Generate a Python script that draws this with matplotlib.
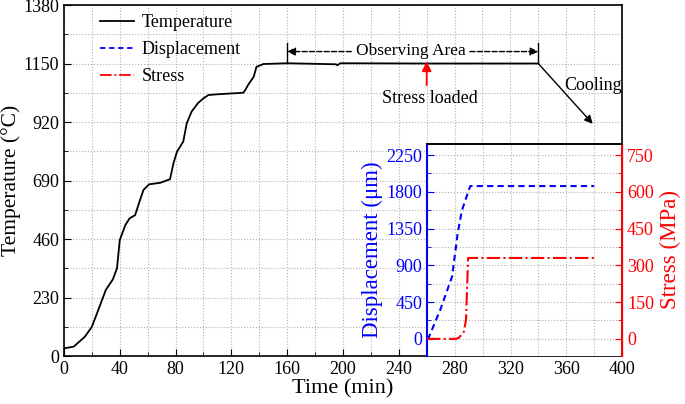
import matplotlib.pyplot as plt
from matplotlib.lines import Line2D
from matplotlib.ticker import MultipleLocator

plt.rcParams['font.family'] = ['Liberation Serif', 'DejaVu Serif']

# temperature curve (main axes)
time_t = [0, 7, 15, 20, 25, 30, 35, 38, 40, 44, 47, 51, 54.5, 57, 61, 69, 76, 78.5, 81,
          85.5, 88, 91.5, 96, 100, 103.5, 110, 128.5, 130, 132, 136, 138, 143, 160,
          195, 196, 198, 260, 340]
temp = [30, 37, 76, 115, 187, 260, 301, 345, 456, 515, 541, 554, 613, 653, 675, 681, 695,
        758, 803, 843, 915, 961, 994, 1013, 1026, 1029, 1035, 1046, 1066, 1098, 1137, 1148,
        1151, 1147, 1143, 1151, 1150, 1150]

# displacement (inset, left axis)
time_d = [260, 261, 269.5, 278, 282, 285, 291, 380]
disp = [0, 8, 355, 763, 1290, 1570, 1870, 1870]

# stress (inset, right axis)
time_s = [260, 281, 283, 286.5, 288, 289.5, 380]
stress = [0, 0, 5, 30, 80, 330, 330]

fig = plt.figure(figsize=(6.85, 4.04), dpi=100)
ax = fig.add_axes([0.0934, 0.1188, 0.8146, 0.8688])

ax.plot(time_t, temp, color='black', lw=1.3)
ax.set_xlim(0, 400)
ax.set_ylim(0, 1380)
ax.xaxis.set_major_locator(MultipleLocator(40))
ax.xaxis.set_minor_locator(MultipleLocator(20))
ax.yaxis.set_major_locator(MultipleLocator(230))
ax.yaxis.set_minor_locator(MultipleLocator(115))
ax.tick_params(which='both', direction='in', labelsize=13)
ax.tick_params(which='major', length=5)
ax.tick_params(which='minor', length=3)
ax.grid(True, which='both', color='#b0b0b0', linestyle=':', linewidth=0.8)
ax.set_xlabel('Time (min)', fontsize=16, labelpad=1)
ax.set_ylabel('Temperature (°C)', fontsize=15.5)
ax.yaxis.set_label_coords(-0.077, 0.5)
for s in ax.spines.values():
    s.set_linewidth(1.2)

# annotations
ax.plot([160, 160], [1151, 1232], color='black', lw=1)
ax.plot([340, 340], [1151, 1232], color='black', lw=1)
ax.annotate('', xy=(160, 1197), xytext=(206, 1197),
            arrowprops=dict(arrowstyle='-|>', linestyle='--', color='black', lw=1,
                            mutation_scale=12, shrinkA=0, shrinkB=0))
ax.annotate('', xy=(340, 1197), xytext=(291, 1197),
            arrowprops=dict(arrowstyle='-|>', linestyle='--', color='black', lw=1,
                            mutation_scale=12, shrinkA=0, shrinkB=0))
ax.text(249, 1200, 'Observing Area', ha='center', va='center', fontsize=12.5)
ax.annotate('', xy=(260, 1158), xytext=(260, 1065),
            arrowprops=dict(arrowstyle='-|>', color='red', lw=1.3,
                            mutation_scale=14, shrinkA=0, shrinkB=0))
ax.text(262, 1012, 'Stress loaded', ha='center', va='center', fontsize=13)
ax.annotate('', xy=(379, 913), xytext=(340, 1150),
            arrowprops=dict(arrowstyle='-|>', color='black', lw=1,
                            mutation_scale=12, shrinkA=0, shrinkB=0))
ax.text(379, 1065, 'Cooling', ha='center', va='center', fontsize=13)

handles = [Line2D([], [], color='black', lw=1.3),
           Line2D([], [], color='blue', lw=1.3, linestyle=(0, (3, 2))),
           Line2D([], [], color='red', lw=1.3, linestyle='-.')]
ax.legend(handles, ['Temperature', 'Displacement', 'Stress'], loc='upper left',
          frameon=False, fontsize=13, handlelength=1.9, handletextpad=0.4,
          labelspacing=0.55, bbox_to_anchor=(0.035, 1.02))

# inset
axi = fig.add_axes([0.6234, 0.1188, 0.2847, 0.5248])
axi.plot(time_d, disp, color='blue', lw=1.5, linestyle=(0, (3, 2)))
axi.set_xlim(260, 400)
axi.set_ylim(-210, 2385)
axi.set_xticks([])
axi.xaxis.set_minor_locator(MultipleLocator(20))
axi.yaxis.set_major_locator(MultipleLocator(450))
axi.yaxis.set_minor_locator(MultipleLocator(225))
axi.tick_params(axis='y', which='both', direction='in', colors='blue', labelsize=13)
axi.tick_params(axis='y', which='major', length=5)
axi.tick_params(axis='y', which='minor', length=3)
axi.tick_params(axis='x', which='both', length=0)
axi.grid(True, which='both', color='#b0b0b0', linestyle=':', linewidth=0.8)
axi.set_ylabel('Displacement (μm)', color='blue', fontsize=16.5, labelpad=2)
axi.spines['left'].set_color('blue')
axi.spines['left'].set_linewidth(1.5)
axi.spines['top'].set_linewidth(1.2)
axi.spines['bottom'].set_visible(False)

axs = axi.twinx()
axs.plot(time_s, stress, color='red', lw=1.5, linestyle='-.')
axs.set_ylim(-70, 795)
axs.yaxis.set_major_locator(MultipleLocator(150))
axs.yaxis.set_minor_locator(MultipleLocator(75))
axs.tick_params(axis='y', which='both', direction='in', colors='red', labelsize=13)
axs.tick_params(axis='y', which='major', length=5)
axs.tick_params(axis='y', which='minor', length=3)
axs.set_ylabel('Stress (MPa)', color='red', fontsize=16.5, labelpad=4)
axs.spines['right'].set_color('red')
axs.spines['right'].set_linewidth(1.5)
axs.spines['left'].set_visible(False)
axs.spines['top'].set_linewidth(1.2)
axs.spines['bottom'].set_visible(False)

fig.savefig('out.png', dpi=100)
